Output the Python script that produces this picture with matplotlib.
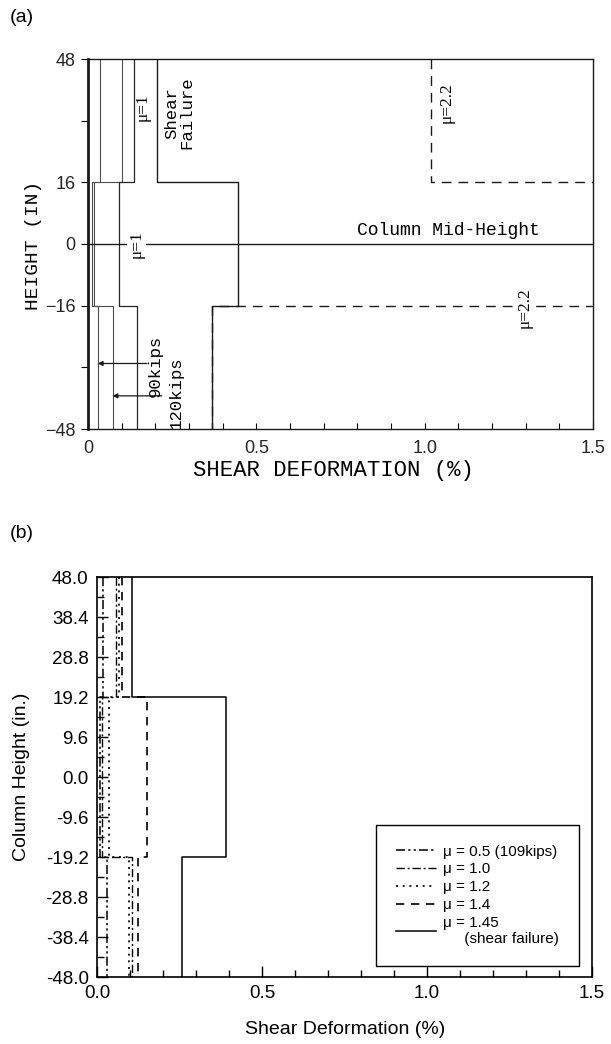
import numpy as np
import matplotlib.pyplot as plt
from matplotlib.ticker import MultipleLocator, FixedLocator

# --- panel (a): shear deformation (%) per column segment, top -> bottom ---
bounds_a = [48, 16, -16, -48]
a_90kips = [0.036, 0.012, 0.029]
a_120kips = [0.100, 0.018, 0.073]
a_mu1 = [0.137, 0.093, 0.145]
a_shear_fail = [0.205, 0.445, 0.367]
a_mu22 = [1.02, 1.80, 0.367]          # middle segment runs off the scale
a_yticks = [48, 16, 0, -16, -48]
a_xticks = [0, 0.5, 1.0, 1.5]

# --- panel (b) ---
bounds_b = [48, 19.2, -19.2, -48]
b_labels = ['\u03bc = 0.5 (109kips)', '\u03bc = 1.0', '\u03bc = 1.2',
            '\u03bc = 1.4', '\u03bc = 1.45\n     (shear failure)']
b_upper = [0.018, 0.057, 0.066, 0.077, 0.105]
b_middle = [0.008, 0.015, 0.035, 0.153, 0.392]
b_lower = [0.031, 0.105, 0.098, 0.125, 0.259]
b_yticks = [48.0, 38.4, 28.8, 19.2, 9.6, 0.0, -9.6, -19.2, -28.8, -38.4, -48.0]
b_xticks = [0.0, 0.5, 1.0, 1.5]


def step_xy(vals, bounds):
    # one vertical run per segment; consecutive runs join with a horizontal step
    xs, ys = [], []
    for v, top, bot in zip(vals, bounds[:-1], bounds[1:]):
        xs += [v, v]
        ys += [top, bot]
    return xs, ys


W, H = 611, 1044
fig = plt.figure(figsize=(W / 100, H / 100), dpi=100)

mono = 'Liberation Mono'
serif = 'Liberation Serif'
sans = 'Liberation Sans'

# ================= (a) =================
ax = fig.add_axes([88 / W, 1 - 429 / H, 505 / W, 370 / H])
ax.set_xlim(0, 1.5)
ax.set_ylim(-48, 48)

ax.plot(*step_xy(a_90kips, bounds_a), color='0.3', lw=0.8)
ax.plot(*step_xy(a_120kips, bounds_a), color='0.3', lw=0.8)
ax.plot(*step_xy(a_mu1, bounds_a), color='0.15', lw=0.9)
ax.plot(*step_xy(a_shear_fail, bounds_a), color='0.1', lw=1.0)
ax.plot(*step_xy(a_mu22, bounds_a), color='0.1', lw=1.0,
        linestyle=(0, (7, 5)))
ax.axhline(0, color='0.1', lw=1.0)

ax.text(1.07, 1.2, 'Column Mid-Height', family=mono, fontsize=13,
        ha='center', va='bottom')
ax.text(0.163, 35.5, '\u03bc=1', family=serif, fontsize=12.5, rotation=90,
        ha='center', va='center')
ax.text(0.145, 0, '\u03bc=1', family=serif, fontsize=12.5, rotation=90,
        ha='center', va='center',
        bbox=dict(facecolor='white', edgecolor='none', pad=1))
ax.text(0.272, 34.0, 'Shear\nFailure', family=mono, fontsize=12.5,
        rotation=90, ha='center', va='center', linespacing=1.05)
ax.text(1.065, 36.8, '\u03bc=2.2', family=serif, fontsize=12.5, rotation=90,
        ha='center', va='center')
ax.text(1.297, -16.6, '\u03bc=2.2', family=serif, fontsize=12.5, rotation=90,
        ha='center', va='center',
        bbox=dict(facecolor='white', edgecolor='none', pad=1))

ax.annotate('', xy=(a_90kips[2], -31), xytext=(0.175, -31),
            arrowprops=dict(arrowstyle='-|>', color='0.1', lw=0.9,
                            mutation_scale=7, shrinkA=0, shrinkB=0))
ax.annotate('', xy=(a_120kips[2], -39.4), xytext=(0.219, -39.4),
            arrowprops=dict(arrowstyle='-|>', color='0.1', lw=0.9,
                            mutation_scale=7, shrinkA=0, shrinkB=0))
ax.text(0.200, -31.5, '90kips', family=mono, fontsize=12.5, rotation=90,
        ha='center', va='center')
ax.text(0.262, -38.5, '120kips', family=mono, fontsize=12.5, rotation=90,
        ha='center', va='center')

ax.yaxis.set_major_locator(FixedLocator(a_yticks))
ax.yaxis.set_minor_locator(FixedLocator([32, -32]))
ax.set_yticklabels(['48', '16', '0', '\u221216', '\u221248'])
ax.xaxis.set_major_locator(FixedLocator(a_xticks))
ax.xaxis.set_minor_locator(MultipleLocator(0.1))
ax.set_xticklabels(['0', '0.5', '1.0', '1.5'])
ax.tick_params(axis='y', which='both', direction='out', length=5, width=0.8,
               pad=4, labelsize=13)
ax.tick_params(axis='x', which='both', direction='in', length=4, width=0.8,
               pad=8, labelsize=13)
for lab in ax.get_xticklabels() + ax.get_yticklabels():
    lab.set_family(sans)
    lab.set_color('0.15')
for s in ax.spines.values():
    s.set_linewidth(1.0)
    s.set_color('0.1')
ax.spines['left'].set_linewidth(2.0)

fig.text(33 / W, 1 - 245 / H, 'HEIGHT (IN)', family=mono, fontsize=14,
         rotation=90, ha='center', va='center')
fig.text(333 / W, 1 - 471 / H, 'SHEAR DEFORMATION (%)', family=mono,
         fontsize=16, ha='center', va='center')
fig.text(10 / W, 1 - 18 / H, '(a)', family=sans, fontsize=14,
         ha='left', va='center')

# ================= (b) =================
bx = fig.add_axes([97 / W, 1 - 977 / H, 495 / W, 400 / H])
bx.set_xlim(0, 1.5)
bx.set_ylim(-48, 48)

styles = [(0, (6, 2, 1.5, 2, 1.5, 2)), (0, (6, 2, 1.5, 2)), (0, (1.2, 2.8)),
          (0, (5, 4)), '-']
widths = [1.1, 1.0, 1.2, 1.2, 1.1]
for lab, up, mid, low, ls, w in zip(b_labels, b_upper, b_middle, b_lower,
                                    styles, widths):
    bx.plot(*step_xy([up, mid, low], bounds_b), color='black', lw=w,
            linestyle=ls, label=lab)

leg = bx.legend(loc='lower right', bbox_to_anchor=(0.974, 0.0275),
                borderaxespad=0, frameon=True, fancybox=False,
                edgecolor='black', framealpha=1, handlelength=2.6,
                handletextpad=0.5, borderpad=1.3, labelspacing=0.25,
                prop={'family': sans, 'size': 11})
leg.get_frame().set_linewidth(1.0)

bx.yaxis.set_major_locator(FixedLocator(b_yticks))
bx.yaxis.set_minor_locator(MultipleLocator(4.8))
bx.set_yticklabels(['%.1f' % v for v in b_yticks])
bx.xaxis.set_major_locator(FixedLocator(b_xticks))
bx.xaxis.set_minor_locator(MultipleLocator(0.1))
bx.set_xticklabels(['%.1f' % v for v in b_xticks])
bx.tick_params(which='major', direction='in', length=8, width=1.0,
               labelsize=13.5, pad=6)
bx.tick_params(which='minor', direction='in', length=5, width=1.0)
for lab in bx.get_xticklabels() + bx.get_yticklabels():
    lab.set_family(sans)
for s in bx.spines.values():
    s.set_linewidth(1.2)

fig.text(22 / W, 1 - 777 / H, 'Column Height (in.)', family=sans,
         fontsize=14, rotation=90, ha='center', va='center')
fig.text(345 / W, 1 - 1030 / H, 'Shear Deformation (%)', family=sans,
         fontsize=14, ha='center', va='center')
fig.text(10 / W, 1 - 533 / H, '(b)', family=sans, fontsize=14,
         ha='left', va='center')

fig.savefig('out.png', dpi=100)
